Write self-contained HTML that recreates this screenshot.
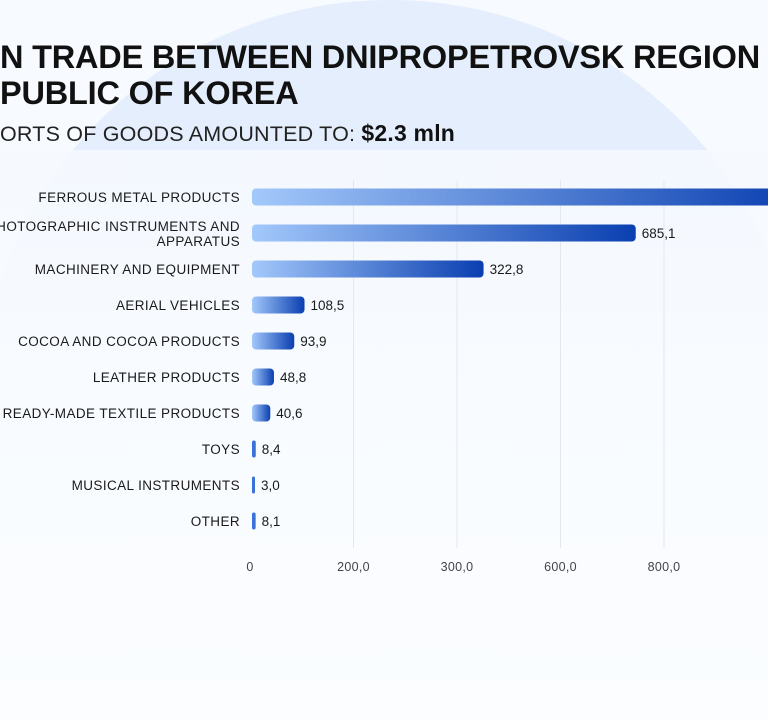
<!DOCTYPE html>
<html style="overflow:hidden;width:768px;height:720px"><head><meta charset="utf-8"><style>
html,body{margin:0;width:768px;height:720px;overflow:hidden}
body{background:#f7faff;font-family:"Liberation Sans",sans-serif;position:relative}
.circle{position:absolute;left:-20px;top:0;width:820px;height:820px;border-radius:50%;background:#e4eefc}
.panel{position:absolute;left:0;top:150px;width:768px;height:570px;background:linear-gradient(180deg,rgba(246,250,255,0.85),#f8fbff 40%,#fbfdff)}
.t{position:absolute;left:0;color:#111;font-weight:bold;font-size:32.5px;white-space:nowrap;letter-spacing:-0.2px}
.sub{position:absolute;left:0;top:120px;font-size:21.5px;color:#222;white-space:nowrap;letter-spacing:0.2px}
svg{position:absolute;left:0;top:0}
</style></head><body>
<div class="circle"></div>
<div class="panel"></div>
<div class="t" style="top:39px">N TRADE BETWEEN DNIPROPETROVSK REGION</div>
<div class="t" style="top:75px">PUBLIC OF KOREA</div>
<div class="sub">ORTS OF GOODS AMOUNTED TO: <b style="font-size:23px;color:#111">$2.3 mln</b></div>
<svg id="c" width="768" height="720">
<defs><linearGradient id="g" x1="0" x2="1" y1="0" y2="0"><stop offset="0" stop-color="#a3c8fb"/><stop offset="1" stop-color="#0a3fb0"/></linearGradient></defs>
</svg>
<script>
const categories=["FERROUS METAL PRODUCTS","PHOTOGRAPHIC INSTRUMENTS AND|APPARATUS","MACHINERY AND EQUIPMENT","AERIAL VEHICLES","COCOA AND COCOA PRODUCTS","LEATHER PRODUCTS","READY-MADE TEXTILE PRODUCTS","TOYS","MUSICAL INSTRUMENTS","OTHER"];
const values=[981,685.1,322.8,108.5,93.9,48.8,40.6,8.4,3.0,8.1];
const tickLabels=["0","200,0","300,0","600,0","800,0"];
const svg=document.getElementById('c');const NS="http://www.w3.org/2000/svg";
const x0=252;
function xs(v){const d=[0,100,300,700,1000],r=[0,45,222,390,560];for(let i=1;i<d.length;i++){if(v<=d[i]){return x0+r[i-1]+(v-d[i-1])/(d[i]-d[i-1])*(r[i]-r[i-1]);}}return x0+560;}
function ys(i){return 197+i*36;}
function tx(i){return 250+i*103.5;}
function mk(t,a){const e=document.createElementNS(NS,t);for(const k in a)e.setAttribute(k,a[k]);svg.appendChild(e);return e;}
tickLabels.forEach((l,i)=>{
 if(i>0){const g=mk('line',{x1:tx(i),x2:tx(i),y1:180,y2:548,stroke:'#e3e8ef','stroke-width':1});
 
 }
 const t=mk('text',{x:tx(i),y:571,'text-anchor':'middle','font-size':12.5,fill:'#444','letter-spacing':0.3});t.textContent=l;
 
 
});
categories.forEach((c,i)=>{
 const y=ys(i);const parts=c.split('|');
 const lt=mk('text',{x:240,y:parts.length>1?y-2:y+5,'text-anchor':'end','font-size':13.5,fill:'#1a1a1a','letter-spacing':0.4});
 
 
 parts.forEach((p,j)=>{const s=document.createElementNS(NS,'tspan');s.setAttribute('x',240);if(j>0)s.setAttribute('dy',15);s.textContent=p;lt.appendChild(s);});
 const w=Math.max(3,xs(values[i])-x0);
 const b=mk('rect',{x:x0,y:y-8.5,width:w,height:17,rx:Math.min(4,w/2),fill:w>10?'url(#g)':'#3a72d8'});
 
 
 if(i>0){const v=mk('text',{x:x0+w+6,y:y+5,'font-size':13.5,fill:'#1a1a1a'});v.textContent=values[i].toFixed(1).replace('.',',');
 
 }
});
</script>
</body></html>
